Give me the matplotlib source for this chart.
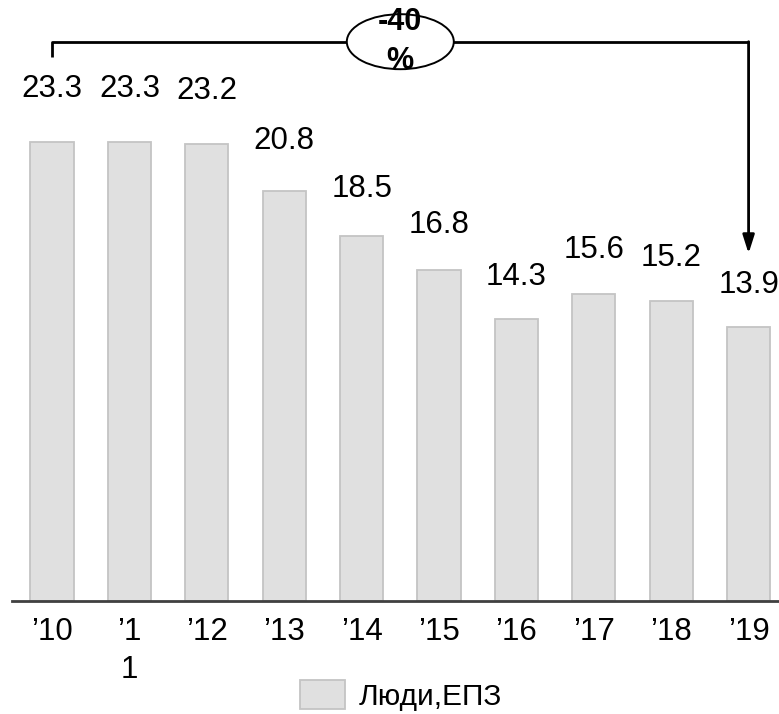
import matplotlib
matplotlib.use("Agg")
import matplotlib.pyplot as plt
from matplotlib.patches import Ellipse

plt.rcParams["font.family"] = ["Liberation Sans", "DejaVu Sans"]

# Data
year_labels = ["’10", "’1\n1", "’12", "’13", "’14", "’15", "’16", "’17", "’18", "’19"]
values = [23.3, 23.3, 23.2, 20.8, 18.5, 16.8, 14.3, 15.6, 15.2, 13.9]
series_name = "Люди,ЕПЗ"
change_text = "-40\n%"

W, H, DPI = 779, 714, 100
fig = plt.figure(figsize=(W / DPI, H / DPI), dpi=DPI)

px_per_unit = 19.71
base_px = 601
ax = fig.add_axes([12 / W, (H - base_px) / H, (W - 12) / W, base_px / H])

x = list(range(len(values)))
bars = ax.bar(x, values, width=0.556, color="#e0e0e0", edgecolor="#c4c4c4",
              linewidth=1.3, label=series_name, zorder=2)

ax.set_xlim(-0.517, 9.393)
ax.set_ylim(0, base_px / px_per_unit)

for s in ["top", "right", "left"]:
    ax.spines[s].set_visible(False)
ax.spines["bottom"].set_color("#404040")
ax.spines["bottom"].set_linewidth(2)
ax.set_yticks([])
ax.set_xticks(x)
ax.set_xticklabels(year_labels, fontsize=22.5, color="black", linespacing=1.35)
ax.tick_params(axis="x", length=0, pad=11.5)

# value labels above bars
for xi, v in zip(x, values):
    ax.annotate(f"{v:.1f}", xy=(xi, v * 1.06), xytext=(0, 12.5),
                textcoords="offset points", ha="center", va="baseline",
                fontsize=22.5, color="black")

# change bracket from first to last bar
first, last = x[0], x[-1]
y_top = (base_px - 41.7) / px_per_unit
y_left = (base_px - 56.7) / px_per_unit
y_tip = (base_px - 253.5) / px_per_unit
ax.plot([first, first, last, last], [y_left, y_top, y_top, y_top],
        color="black", lw=2, solid_capstyle="butt", zorder=3, clip_on=False)
ax.annotate("", xy=(last, y_tip), xytext=(last, y_top),
            arrowprops=dict(arrowstyle="-|>,head_length=1.1,head_width=0.35",
                            color="black", lw=2, shrinkA=0, shrinkB=0),
            zorder=3)
mid = (first + last) / 2
ax.add_patch(Ellipse((mid, y_top), width=107 / 77.4, height=55 / px_per_unit,
                     facecolor="white", edgecolor="black", lw=1.4, zorder=4,
                     clip_on=False))
ax.text(mid, y_top, change_text, ha="center", va="center", fontsize=22,
        fontweight="bold", linespacing=1.37, zorder=5)

# legend
fig.legend(handles=[bars], labels=[series_name], loc="center",
           bbox_to_anchor=(401 / W, 1 - 695.5 / H), frameon=False,
           fontsize=21.5, handlelength=1.5, handleheight=1.1,
           handletextpad=0.45, borderpad=0, borderaxespad=0)

fig.savefig("out.png", dpi=DPI)
